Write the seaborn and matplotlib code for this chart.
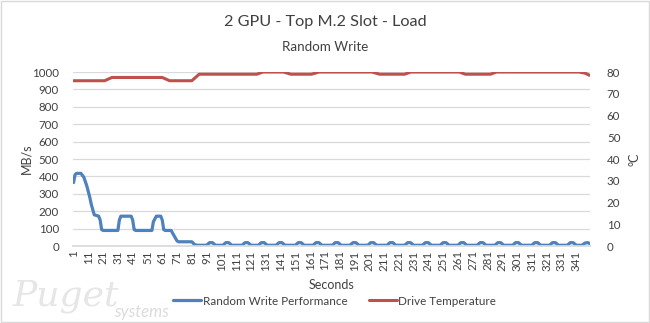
import matplotlib
matplotlib.use("Agg")
import matplotlib.pyplot as plt
from matplotlib.patches import Rectangle
import seaborn as sns
import pandas as pd

# Random write throughput (MB/s) at selected seconds
perf_sec = [1, 2, 3, 6, 8, 10, 12, 13, 15, 18, 19, 20, 21, 31, 32, 33, 40, 41, 42, 43,
            54, 55, 57, 60, 61, 62, 63, 67, 69, 71, 72, 81, 83, 85,
            91, 93, 95, 97, 102, 104, 106, 108, 115, 117, 119, 121, 126, 128, 130, 132,
            138, 140, 142, 144, 151, 153, 155, 157, 163, 165, 167, 169, 176, 178, 180, 182,
            188, 190, 192, 194, 200, 202, 204, 206, 213, 215, 217, 219, 225, 227, 229, 231,
            237, 239, 241, 243, 249, 251, 253, 255, 261, 263, 265, 267, 274, 276, 278, 280,
            286, 288, 290, 292, 298, 300, 302, 304, 311, 313, 315, 317, 323, 325, 327, 329,
            335, 337, 339, 341, 345, 347, 349, 350]
perf_mbs = [365, 410, 418, 418, 395, 345, 280, 240, 180, 172, 150, 95, 90, 90, 150, 172, 172, 150, 95, 90,
            90, 140, 172, 172, 150, 95, 90, 90, 60, 30, 25, 25, 8, 5,
            5, 20, 20, 5, 5, 20, 20, 5, 5, 20, 20, 5, 5, 20, 20, 5,
            5, 20, 20, 5, 5, 20, 20, 5, 5, 20, 20, 5, 5, 20, 20, 5,
            5, 20, 20, 5, 5, 20, 20, 5, 5, 20, 20, 5, 5, 20, 20, 5,
            5, 20, 20, 5, 5, 20, 20, 5, 5, 20, 20, 5, 5, 20, 20, 5,
            5, 20, 20, 5, 5, 20, 20, 5, 5, 20, 20, 5, 5, 20, 20, 5,
            5, 20, 20, 5, 5, 18, 20, 15]

# Drive temperature (°C) at selected seconds
temp_sec = [1, 22, 27, 61, 66, 81, 86, 125, 129, 143, 148, 162, 167, 203, 208, 225, 229,
            262, 266, 283, 287, 343, 347, 350]
temp_c = [76, 76, 77.5, 77.5, 76, 76, 79, 79, 80, 80, 79, 79, 80, 80, 79, 79, 80,
          80, 79, 79, 80, 80, 79.5, 78.5]

x_ticks = list(range(1, 342, 10))

perf = pd.DataFrame({"Seconds": perf_sec, "MB/s": perf_mbs})
temp = pd.DataFrame({"Seconds": temp_sec, "°C": temp_c})

sns.set_theme(style="white")
plt.rcParams["font.family"] = ["Lato", "DejaVu Sans"]

BLUE = "#4F81BD"
RED = "#C0504D"
TXT = "#404040"

fig = plt.figure(figsize=(6.5, 3.23), dpi=100)
ax = fig.add_axes([0.112, 0.238, 0.796, 0.539])
ax2 = ax.twinx()

sns.lineplot(data=perf, x="Seconds", y="MB/s", ax=ax, color=BLUE, linewidth=2.3,
             label="Random Write Performance", legend=False)
sns.lineplot(data=temp, x="Seconds", y="°C", ax=ax2, color=RED, linewidth=2.2,
             label="Drive Temperature", legend=False)

ax.set_xlim(0.5, 350.5)
ax.set_ylim(0, 1000)
ax2.set_ylim(0, 80)
ax.set_yticks(range(0, 1001, 100))
ax2.set_yticks(range(0, 81, 10))
ax.set_xticks(x_ticks)
ax.set_xticklabels([str(t) for t in x_ticks], rotation=90)

ax.yaxis.grid(True, color="#D9D9D9", linewidth=0.9)
ax.set_axisbelow(True)
for a in (ax, ax2):
    for s in a.spines.values():
        s.set_visible(False)
    a.tick_params(length=0, labelsize=8.3, colors=TXT, pad=3)
ax.spines["bottom"].set_visible(True)
ax.spines["bottom"].set_color("#D9D9D9")
ax.tick_params(axis="y", pad=10)
ax2.tick_params(axis="y", pad=12)

ax.set_xlabel("Seconds", fontsize=9, color=TXT, labelpad=6)
ax.set_ylabel("MB/s", fontsize=9, color=TXT, labelpad=0)
ax2.set_ylabel("°C", fontsize=9, color=TXT, labelpad=6)

fig.text(0.5, 0.932, "2 GPU - Top M.2 Slot - Load", ha="center", va="center",
         fontsize=11.7, color=TXT)
fig.text(0.5, 0.855, "Random Write", ha="center", va="center", fontsize=9.6, color=TXT)

h1, l1 = ax.get_legend_handles_labels()
h2, l2 = ax2.get_legend_handles_labels()
fig.legend(h1 + h2, l1 + l2, loc="center", bbox_to_anchor=(0.515, 0.068), ncol=2,
           frameon=False, fontsize=8.4, handlelength=2.4, handletextpad=0.15,
           columnspacing=1.8, labelcolor=TXT)

# faint company watermark
fig.text(0.02, 0.085, "Puget", fontsize=26, style="italic", family="DejaVu Serif",
         color="#E6E6E6", ha="left", va="center", zorder=0)
fig.text(0.175, 0.035, "systems", fontsize=12, color="#DCDCDC", ha="left",
         va="center", style="italic", zorder=0)

fig.patches.append(Rectangle((0.001, 0.002), 0.997, 0.995, transform=fig.transFigure,
                             fill=False, edgecolor="#D9D9D9", linewidth=1.0))

fig.savefig("out.png", dpi=100, facecolor="white")
